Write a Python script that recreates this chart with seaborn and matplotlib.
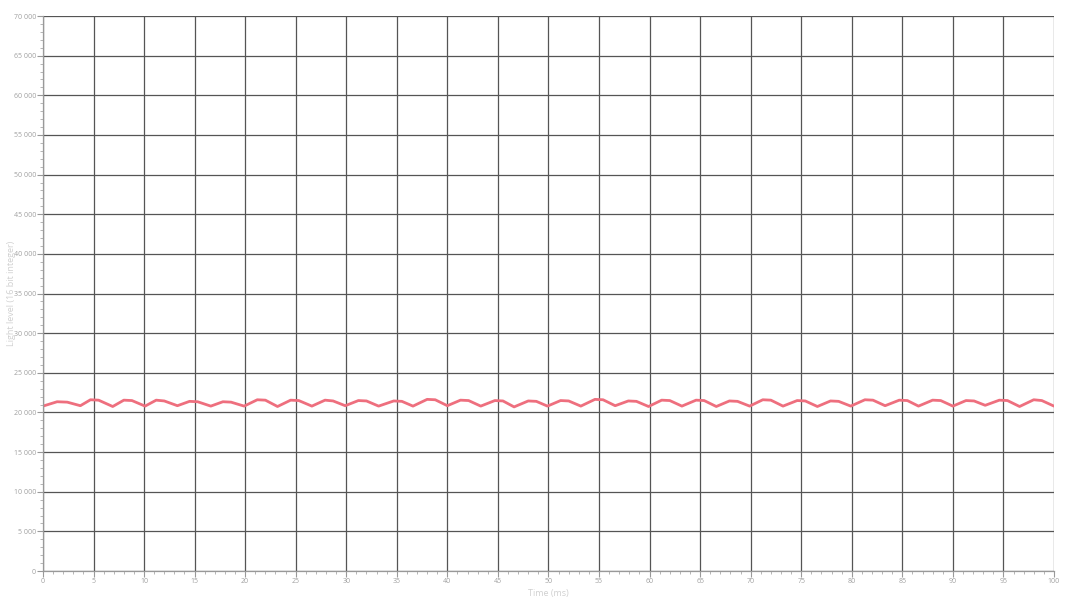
import matplotlib.pyplot as plt
import matplotlib.ticker as mticker
import pandas as pd
import seaborn as sns

# flicker waveform (ms, 16 bit level)
# each hump is read as a rounded top: where it starts and where it ends
hump_start_times = [1.4, 4.7, 8.0, 11.2, 14.5, 17.8, 21.2, 24.5, 27.9, 31.2,
                    34.7, 38.0, 41.3, 44.7, 48.0, 51.2, 54.6, 57.9, 61.2, 64.6,
                    67.9, 71.2, 74.6, 77.9, 81.3, 84.7, 88.0, 91.3, 94.6, 98.0]
hump_start_levels = [21350, 21600, 21550, 21550, 21400, 21350, 21600, 21550, 21550, 21500,
                     21450, 21650, 21550, 21500, 21450, 21500, 21650, 21450, 21550, 21550,
                     21450, 21600, 21500, 21450, 21600, 21550, 21550, 21500, 21550, 21600]
hump_end_times = [2.4, 5.5, 8.8, 12.0, 15.3, 18.6, 22.0, 25.3, 28.7, 32.0,
                  35.5, 38.8, 42.1, 45.5, 48.8, 52.0, 55.4, 58.7, 62.0, 65.4,
                  68.7, 72.0, 75.4, 78.7, 82.1, 85.5, 88.8, 92.1, 95.4, 98.8]
hump_end_levels = [21300, 21550, 21500, 21450, 21350, 21300, 21550, 21500, 21450, 21450,
                   21400, 21600, 21500, 21450, 21400, 21450, 21600, 21400, 21500, 21500,
                   21400, 21550, 21450, 21400, 21550, 21500, 21500, 21450, 21500, 21500]
trough_times = [0.0, 3.7, 6.9, 10.1, 13.3, 16.6, 19.9, 23.2, 26.6, 29.9, 33.2,
                36.6, 40.0, 43.3, 46.6, 49.9, 53.2, 56.6, 59.9, 63.2, 66.6,
                69.9, 73.2, 76.6, 79.9, 83.3, 86.6, 90.0, 93.2, 96.6, 100.0]
trough_levels = [20800, 20850, 20750, 20800, 20850, 20800, 20800, 20750, 20800, 20850, 20800,
                 20800, 20850, 20800, 20700, 20800, 20800, 20850, 20750, 20800, 20750,
                 20800, 20800, 20750, 20800, 20850, 20800, 20800, 20900, 20750, 20800]

df = pd.DataFrame({
    'time': trough_times + hump_start_times + hump_end_times,
    'level': trough_levels + hump_start_levels + hump_end_levels,
}).sort_values('time')

sns.set_style('white')
plt.rcParams['font.family'] = ['Open Sans', 'DejaVu Sans']

fig = plt.figure(figsize=(10.66, 6), dpi=100)
ax = fig.add_axes([0.0403, 0.0483, 0.9484, 0.925])

sns.lineplot(data=df, x='time', y='level', ax=ax, color='#ee6f7e', linewidth=2.0)

ax.set_xlim(0, 100)
ax.set_ylim(0, 70000)
ax.xaxis.set_major_locator(mticker.MultipleLocator(5))
ax.xaxis.set_minor_locator(mticker.MultipleLocator(1))
ax.yaxis.set_major_locator(mticker.MultipleLocator(5000))
ax.yaxis.set_minor_locator(mticker.MultipleLocator(1000))
ax.yaxis.set_major_formatter(mticker.FuncFormatter(lambda v, _: f'{v:,.0f}'.replace(',', ' ')))
ax.xaxis.set_major_formatter(mticker.FuncFormatter(lambda v, _: f'{v:g}'))

ax.grid(True, which='major', color='#555555', linewidth=0.9)
ax.set_axisbelow(True)
ax.tick_params(which='major', length=4, width=0.8, color='#999999', labelsize=5, labelcolor='#a0a0a0', pad=1)
ax.tick_params(which='minor', length=2, width=0.6, color='#aaaaaa')
ax.tick_params(axis='x', which='both', bottom=True)
ax.tick_params(axis='y', which='both', left=True)

for side in ['top', 'right']:
    ax.spines[side].set_visible(False)
for side in ['left', 'bottom']:
    ax.spines[side].set_color('#999999')
    ax.spines[side].set_linewidth(0.9)

ax.set_xlabel('Time (ms)', fontsize=6.5, color='#d0d0d0')
ax.set_ylabel('Light level (16 bit integer)', fontsize=6.5, color='#d0d0d0')
ax.xaxis.set_label_coords(0.5, -0.032)
ax.yaxis.set_label_coords(-0.027, 0.5)

fig.savefig('out.png', dpi=100)
